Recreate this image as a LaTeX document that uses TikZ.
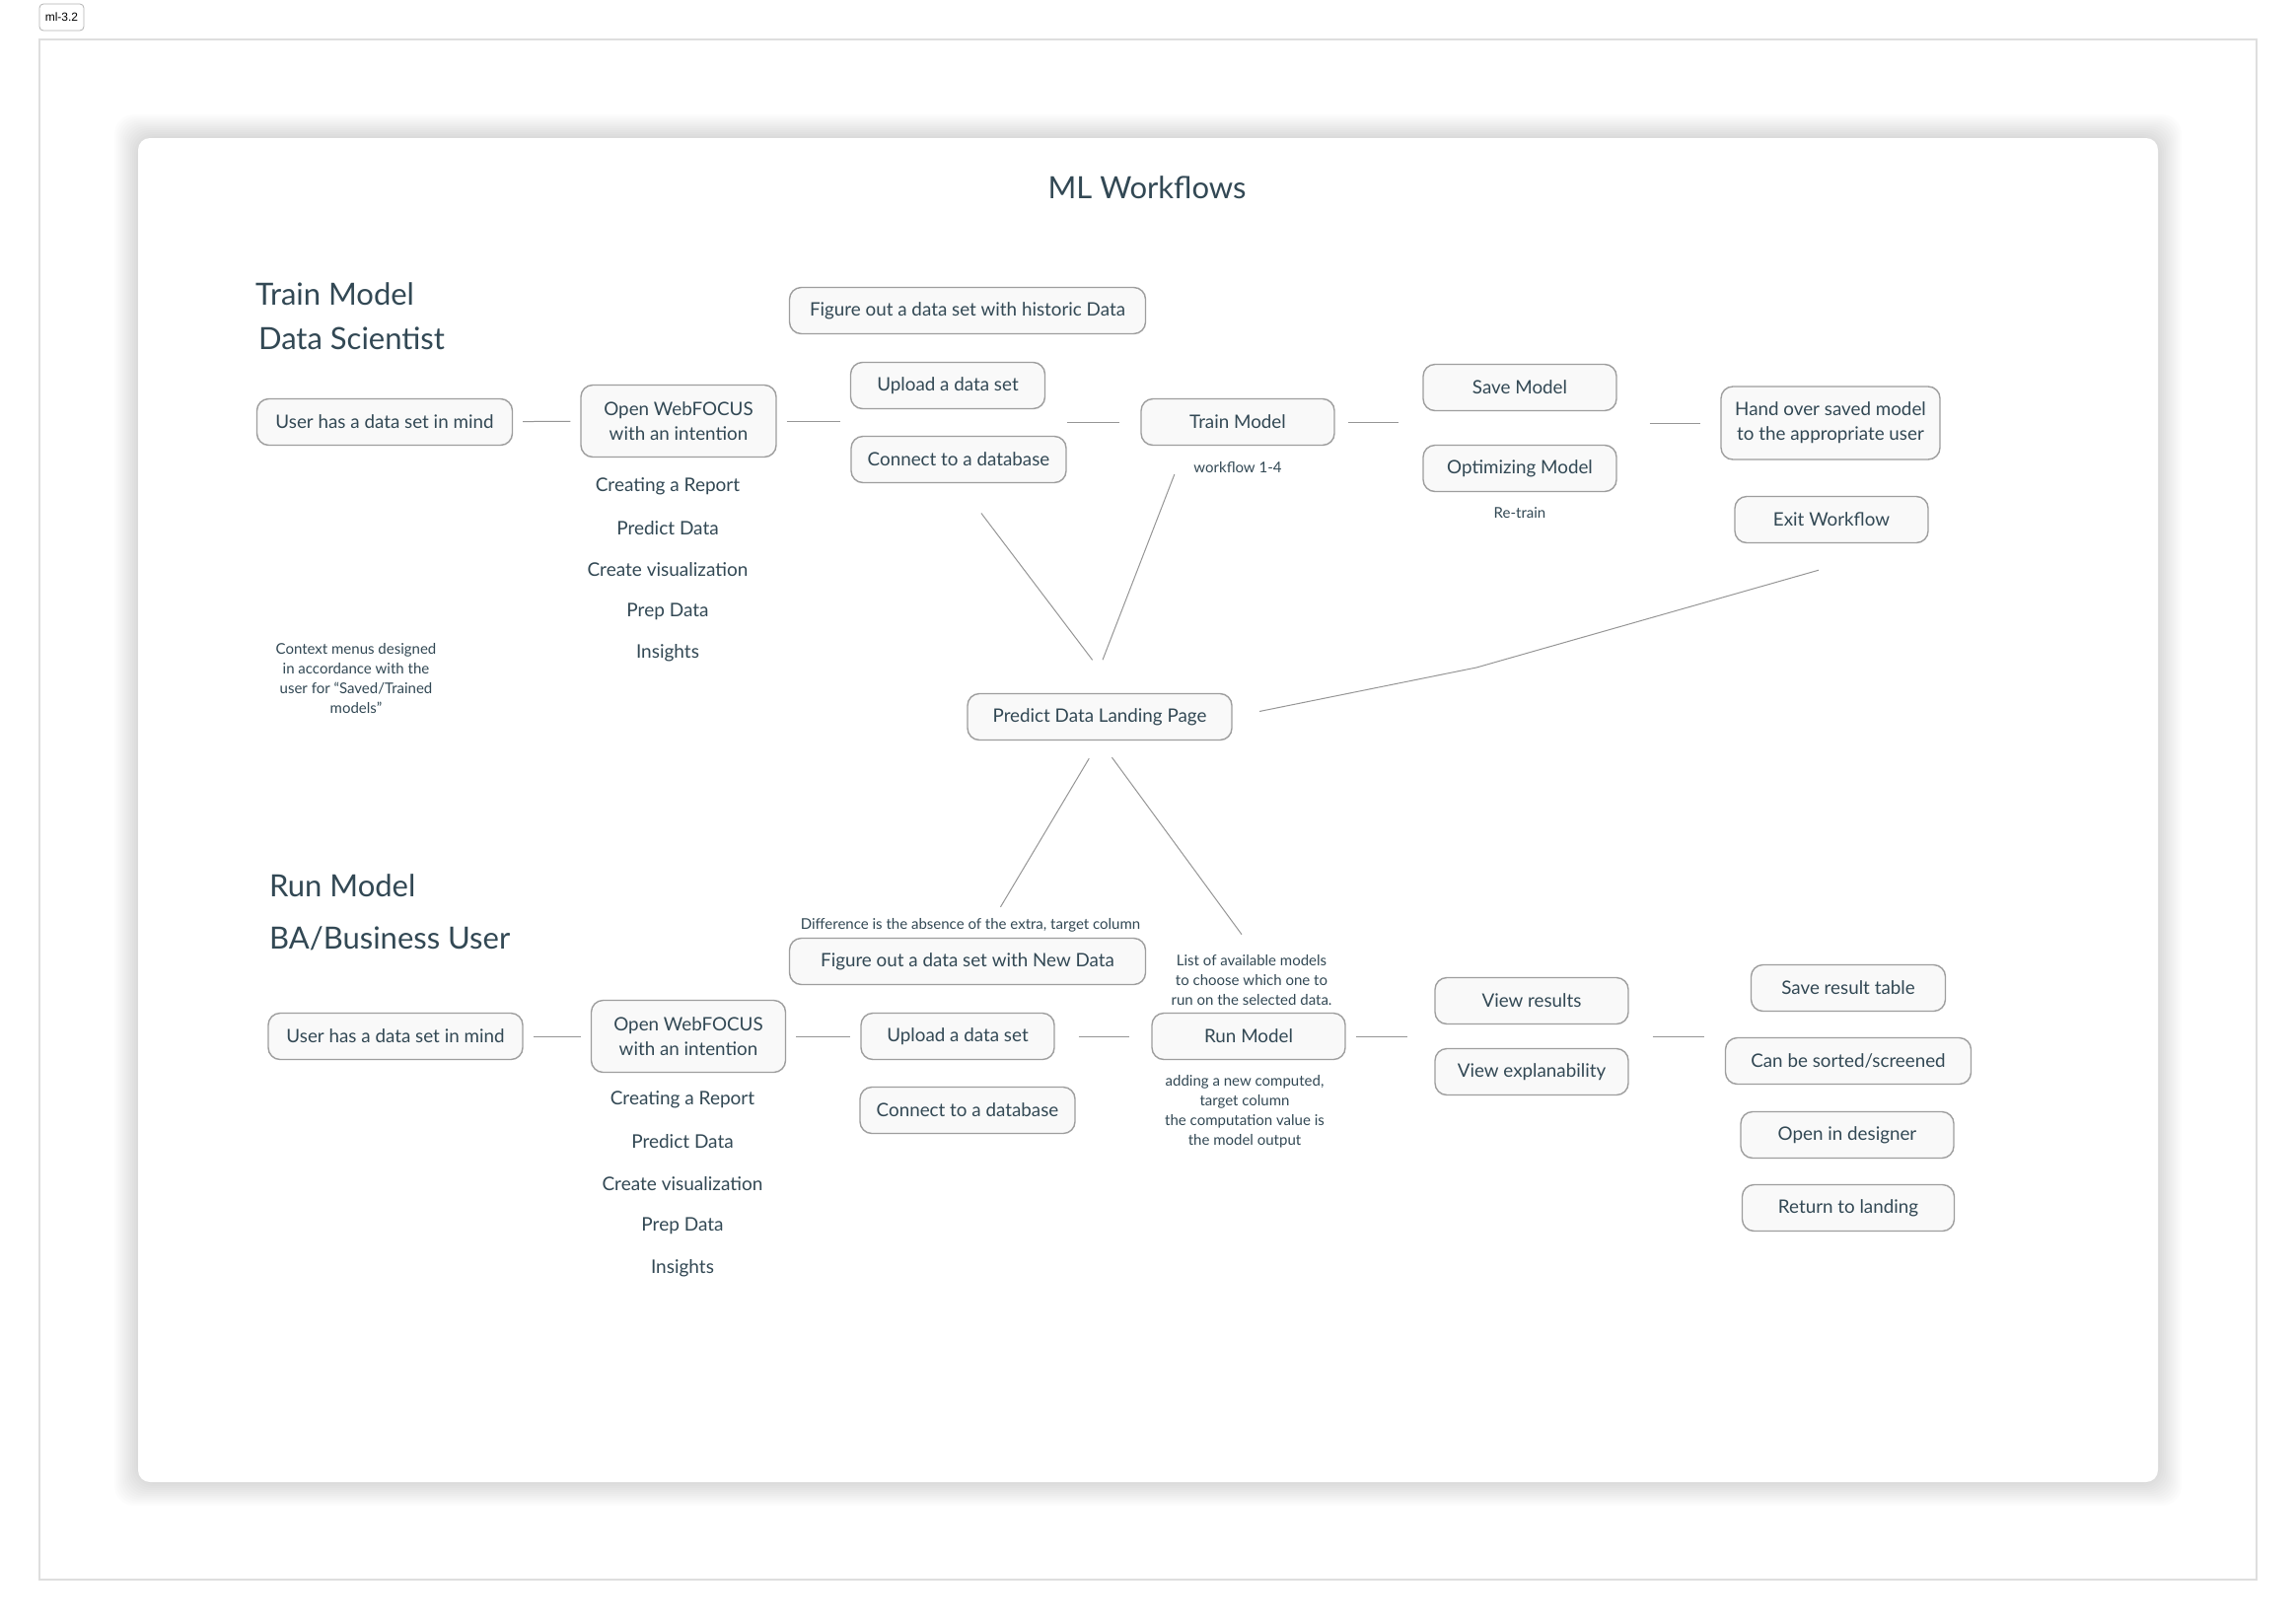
\documentclass[tikz,border=0pt]{standalone}
\usepackage{fontspec}
\setmainfont{Lato}
\newfontfamily\tagfont{Liberation Sans}
\definecolor{InkSlate}{RGB}{50,72,84}
\definecolor{BoxLine}{RGB}{158,158,158}
\definecolor{BoxFill}{RGB}{249,249,249}
\definecolor{LinkGray}{RGB}{150,150,150}
\definecolor{FrameGray}{RGB}{222,222,222}
\tikzset{
	box/.style={draw=BoxLine, line width=0.7pt, fill=BoxFill, rounded corners=6pt,
		minimum height=23.5pt, inner xsep=6pt, align=center, text=InkSlate,
		font=\fontsize{9.4}{12.5}\selectfont},
	item/.style={text=InkSlate, font=\fontsize{9.5}{11}\selectfont},
	note/.style={text=InkSlate, align=center, font=\fontsize{7.5}{10}\selectfont},
	heading/.style={text=InkSlate, anchor=west, font=\fontsize{15.5}{18}\selectfont},
	link/.style={draw=LinkGray, line width=0.5pt, shorten <=5pt, shorten >=5pt},
}
\begin{document}
\begin{tikzpicture}[x=0.5pt, y=-0.5pt]
		\useasboundingbox (0,0) rectangle (2328,1644);
		
		% page frame and tag
		\draw[FrameGray, line width=0.6pt] (40,40) rectangle (2288,1602);
		\node[draw=FrameGray!80!black, fill=white, rounded corners=2pt, minimum width=22.5pt,
			minimum height=13.5pt, inner sep=1pt] (tag) at (62.5,17.5) {\tagfont\fontsize{6}{7}\selectfont ml-3.2};
		
		% card with soft shadow
		\foreach \s in {1,...,12}
			\fill[black, opacity=0.01, rounded corners=10pt] (140-2*\s,140-2*\s) rectangle (2188+2*\s,1503+2*\s);
		\fill[white, rounded corners=6pt] (140,140) rectangle (2188,1503);
		
		\node[text=InkSlate, font=\fontsize{15.5}{18}\selectfont] (title) at (1163,190) {ML Workflows};
		
		% Train Model
		\node[heading] (trainhead) at (252,298) {Train Model};
		\node[heading] (trainrole) at (255,343) {Data Scientist};
		
		\node[box, minimum width=129.5pt] (user1) at (390,428) {User has a data set in mind};
		\node[box, minimum width=99pt, minimum height=36.5pt] (open1) at (688,427) {Open WebFOCUS\\with an intention};
		\foreach \txt [count=\i from 0] in {Creating a Report, Predict Data, Create visualization, Prep Data, Insights}
			\node[item] (tlist\i) at (677,493+42.3*\i) {\txt};
		\node[note] (ctxnote) at (361,688) {Context menus designed\\in accordance with the\\user for “Saved/Trained\\models”};
		
		\node[box, minimum width=180.5pt] (hist) at (981,315) {Figure out a data set with historic Data};
		\node[box, minimum width=98.5pt] (upload1) at (961,391) {Upload a data set};
		\node[box, minimum width=109pt] (connect1) at (972,466) {Connect to a database};
		\node[box, minimum width=98pt] (train) at (1255,428) {Train Model};
		\node[note] (wfnote) at (1255,474) {workflow 1-4};
		\node[box, minimum width=98pt] (save) at (1541,393) {Save Model};
		\node[box, minimum width=98pt] (optim) at (1541,475) {Optimizing Model};
		\node[note] (retrain) at (1541,520) {Re-train};
		\node[box, minimum width=111pt, minimum height=37pt] (hand) at (1856,429) {Hand over saved model\\to the appropriate user};
		\node[box, minimum width=98pt] (exit) at (1857,527) {Exit Workflow};
		
		\draw[link] (user1) -- (open1);
		\draw[link] (open1) -- (open1 -| upload1.west);
		\draw[link, shorten <=0pt, shorten >=10.5pt] (connect1.east |- train) -- (train);
		\draw[link, shorten <=6.5pt, shorten >=12pt] (train) -- (train -| save.west);
		\draw[link, shorten <=16.5pt, shorten >=10pt] (save.east |- hand) -- (hand);
		
		% landing page
		\node[box, minimum width=134pt] (landing) at (1115,727) {Predict Data Landing Page};
		\coordinate (kink) at (1497,677);
		
		\draw[link, shorten <=19pt, shorten >=21pt] (connect1.south) -- ([xshift=9pt]landing.north);
		\draw[link, shorten <=15.5pt, shorten >=18pt] ([xshift=-26.5pt]train.south) -- ([xshift=-5pt]landing.north);
		\draw[link, shorten <=14pt, shorten >=0pt] (landing.east) -- (kink) -- ([shift={(-13,27)}]exit.south);
		
		% Run Model
		\node[heading] (runhead) at (266,898) {Run Model};
		\node[heading] (runrole) at (266,952) {BA/Business User};
		
		\node[box, minimum width=129pt] (user2) at (401,1051) {User has a data set in mind};
		\node[box, minimum width=98.5pt, minimum height=36.5pt] (open2) at (698,1051) {Open WebFOCUS\\with an intention};
		\foreach \txt [count=\i from 0] in {Creating a Report, Predict Data, Create visualization, Prep Data, Insights}
			\node[item] (blist\i) at (692,1115+42.7*\i) {\txt};
		
		\node[note] (diffnote) at (984,938) {Difference is the absence of the extra, target column};
		\node[box, minimum width=180.5pt] (newdata) at (981,975) {Figure out a data set with New Data};
		\node[box, minimum width=98pt] (upload2) at (971,1051) {Upload a data set};
		\node[box, minimum width=109pt] (connect2) at (981,1126) {Connect to a database};
		\node[note] (modelsnote) at (1269,994) {List of available models\\to choose which one to\\run on the selected data.};
		\node[box, minimum width=98pt] (run) at (1266,1051) {Run Model};
		\node[note] (addnote) at (1262,1127) {adding a new computed,\\target column\\the computation value is\\the model output};
		\node[box, minimum width=98pt] (viewres) at (1553,1015) {View results};
		\node[box, minimum width=98pt] (viewexp) at (1553,1087) {View explanability};
		\node[box, minimum width=98.5pt] (saveres) at (1874,1002) {Save result table};
		\node[box, minimum width=124.5pt] (sorted) at (1874,1076) {Can be sorted/screened};
		\node[box, minimum width=108pt] (designer) at (1873,1151) {Open in designer};
		\node[box, minimum width=107.5pt] (landret) at (1874,1225) {Return to landing};
		
		\draw[link] (user2) -- (open2);
		\draw[link] (open2) -- (open2 -| upload2.west);
		\draw[link, shorten <=12pt, shorten >=11pt] (upload2) -- (run);
		\draw[link, shorten >=13.5pt] (run) -- (run -| viewres.west);
		\draw[link, shorten <=12pt, shorten >=10.5pt] (viewres.east |- run) -- (sorted.west |- run);
		
		\draw[link, shorten <=10.5pt, shorten >=18pt] (landing.south) -- ([xshift=7.5pt]newdata.north);
		\draw[link, shorten <=10.5pt, shorten >=8.5pt] (landing.south) -- (modelsnote.north);
	\end{tikzpicture}
\end{document}
